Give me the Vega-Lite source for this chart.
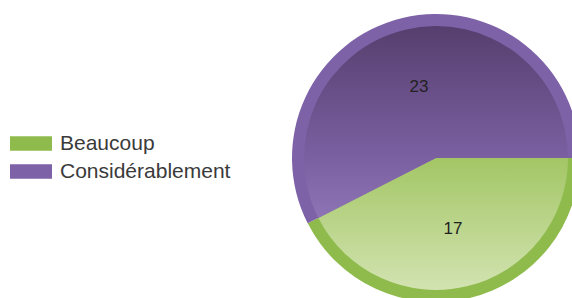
{
  "$schema": "https://vega.github.io/schema/vega-lite/v6.json",
  "width": 288,
  "height": 288,
  "autosize": "none",
  "padding": {"left": 292, "top": 14, "right": 0, "bottom": 0},
  "background": "white",
  "data": {"values": [
    {"cat": "Beaucoup", "n": 17},
    {"cat": "Considérablement", "n": 23}
  ]},
  "encoding": {
    "theta": {"field": "n", "type": "quantitative", "stack": true, "scale": {"range": [1.5708, 7.854]}},
    "order": {"field": "n", "type": "quantitative", "sort": "ascending"}
  },
  "layer": [
    {
      "mark": {"type": "arc", "radius": 144, "stroke": null},
      "encoding": {
        "color": {
          "field": "cat", "type": "nominal",
          "scale": {"domain": ["Beaucoup", "Considérablement"], "range": ["#8fbb4d", "#7e62a8"]},
          "legend": {
            "title": null,
            "orient": "none",
            "legendX": -271.5,
            "legendY": 119,
            "padding": 0,
            "symbolType": "M-2,-0.7H2V0.7H-2Z",
            "symbolSize": 441,
            "symbolStrokeWidth": 0,
            "labelFont": "Liberation Sans",
            "labelFontSize": 21,
            "labelColor": "#3a3a3a",
            "labelOffset": 18.5,
            "labelLimit": 0,
            "rowPadding": 6
          }
        }
      }
    },
    {
      "mark": {"type": "arc", "radius": 132, "stroke": null},
      "encoding": {
        "fill": {
          "condition": {
            "test": "datum.cat === 'Beaucoup'",
            "value": {"gradient": "linear", "x1": 0, "y1": 0, "x2": 0, "y2": 1,
              "stops": [{"offset": 0, "color": "#a3c665"}, {"offset": 1, "color": "#d2e3b1"}]}
          },
          "value": {"gradient": "linear", "x1": 0, "y1": 0, "x2": 0, "y2": 1,
            "stops": [{"offset": 0, "color": "#563f6e"}, {"offset": 0.67, "color": "#7a5fa0"}, {"offset": 1, "color": "#8d74b4"}]}
        }
      }
    },
    {
      "mark": {"type": "text", "radius": 73, "font": "Liberation Sans", "fontSize": 17, "color": "#222222"},
      "encoding": {"text": {"field": "n", "type": "quantitative"}}
    }
  ]
}
